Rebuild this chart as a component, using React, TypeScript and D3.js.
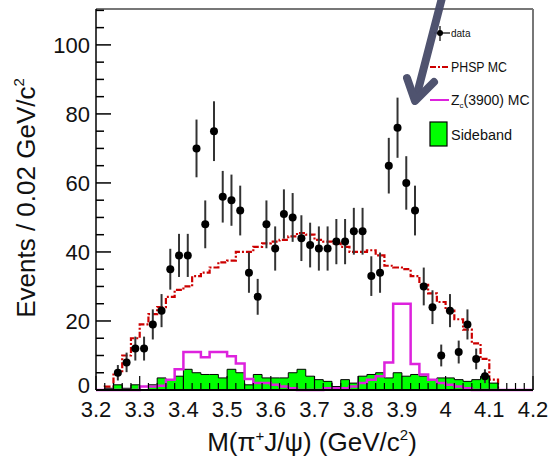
import React from "react";
import * as d3 from "d3";

// ---- data (bins of 0.02 GeV/c^2 from 3.20 to 4.20) ----
const binEdgesStart = 3.2;
const binWidth = 0.02;
const dataCounts = [0, 0, 5, 8, 12, 12, 19, 23, 35, 39, 39, 70, 48, 75, 56, 55, 52, 34, 27, 48, 41, 51, 50, 44, 42, 41, 41, 43, 43, 46, 46, 33, 34, 65, 76, 60, 52, 30, 24, 10, 23, 11, 19, 9, 4, 0, 0, 0, 0, 0];
const phspMC = [0, 1, 5, 10, 15, 19, 22, 24, 27, 29, 30, 33, 34, 35.5, 37, 37.5, 40, 40, 41.5, 42.5, 43, 43.5, 44.5, 45.5, 45, 43.5, 43, 42.5, 41.5, 40, 40, 40.5, 39, 36, 35.5, 35, 33, 30.5, 28, 25.5, 23, 20.5, 17.5, 13.5, 9, 3, 0, 0, 0, 0];
const zcMC = [0, 0, 0, 0, 0, 1, 1, 1.2, 3, 6, 11, 11, 9.5, 11, 11, 9.8, 7.7, 3.2, 2, 2, 1.5, 1, 0.5, 0, 0, 0, 0.5, 0.5, 0.5, 1, 2, 3, 4, 8, 25, 25, 7.5, 4.5, 3, 2, 1.5, 1, 0.5, 0, 0, 0, 0, 0, 0, 0];
const sideband = [0, 0.5, 1.5, 0.5, 1.5, 0, 1.5, 3.5, 3, 4, 6, 5, 4.5, 4.5, 3.5, 6, 5, 1.5, 4.5, 3.5, 3.5, 3.5, 5, 6, 4, 3, 2.5, 1, 3, 2, 4, 4.5, 5, 3.5, 5, 4, 4.5, 4, 3, 3.5, 3.5, 3, 2.5, 3, 4, 2, 0, 0, 0, 0];
const xTickValues = [3.2, 3.3, 3.4, 3.5, 3.6, 3.7, 3.8, 3.9, 4.0, 4.1, 4.2];
const xTickLabels = ["3.2", "3.3", "3.4", "3.5", "3.6", "3.7", "3.8", "3.9", "4", "4.1", "4.2"];
const yTickValues = [0, 20, 40, 60, 80, 100];
const legendLabels = ["data", "PHSP MC", "(3900) MC", "Sideband"];

const W = 551, H = 461;
const L = 96, R = 533, T = 9, B = 390;

export default function App() {
  const x = d3.scaleLinear().domain([3.2, 4.2]).range([L, R]);
  const y = d3.scaleLinear().domain([0, 110.4]).range([B, T]);
  const n = dataCounts.length;
  const edges = d3.range(n + 1).map((i) => binEdgesStart + i * binWidth);

  const stepPts = (vals: number[]) => {
    const pts: [number, number][] = vals.map((v, i) => [edges[i], v]);
    pts.push([edges[n], vals[n - 1]]);
    return pts;
  };
  const line = d3.line<[number, number]>().x((d) => x(d[0])).y((d) => y(d[1])).curve(d3.curveStepAfter);
  const area = d3.area<[number, number]>().x((d) => x(d[0])).y0(y(0)).y1((d) => y(d[1])).curve(d3.curveStepAfter);

  const minorY = d3.range(0, 111, 5);
  const minorX = d3.range(0, 51).map((i) => 3.2 + i * 0.02);

  const font = "'Liberation Sans', Arial, Helvetica, sans-serif";

  return (
    <svg width={W} height={H} style={{ position: "absolute", left: 0, top: 0, background: "#fff" }} fontFamily={font}>
      <rect x={0} y={0} width={W} height={H} fill="#fff" />
      {/* PHSP MC */}
      <path d={line(stepPts(phspMC)) || ""} fill="none" stroke="#cc0000" strokeWidth={2.2} strokeDasharray="6,2,2,2" />
      {/* sideband */}
      <path d={area(stepPts(sideband)) || ""} fill="#00ff00" stroke="#000" strokeWidth={1} />
      {/* Zc MC */}
      <path d={line(stepPts(zcMC)) || ""} fill="none" stroke="#dd22dd" strokeWidth={2.5} />
      {/* data */}
      {dataCounts.map((c, i) => {
        if (c <= 0) return null;
        const cx = x(edges[i] + binWidth / 2);
        const e = Math.sqrt(c);
        return (
          <g key={i}>
            <line x1={cx} x2={cx} y1={y(c + e)} y2={y(Math.max(0, c - e))} stroke="#333" strokeWidth={2} />
            <circle cx={cx} cy={y(c)} r={4} fill="#000" />
          </g>
        );
      })}
      {/* frame */}
      <line x1={L} x2={R} y1={T} y2={T} stroke="#777" strokeWidth={2} />
      <line x1={R} x2={R} y1={T} y2={B} stroke="#777" strokeWidth={2} />
      <line x1={L} x2={L} y1={T} y2={B} stroke="#000" strokeWidth={1.5} />
      <line x1={L} x2={R} y1={B} y2={B} stroke="#000" strokeWidth={2} />
      {/* y ticks */}
      {minorY.map((v) => (
        <line key={"my" + v} x1={L} x2={L + (v % 20 === 0 ? 15 : 8)} y1={y(v)} y2={y(v)} stroke="#000" strokeWidth={1.5} />
      ))}
      {yTickValues.map((v) => (
        <text key={"ty" + v} x={L - 6} y={y(v) - (v === 0 ? 5 : 0)} dy="0.36em" textAnchor="end" fontSize={22} fill="#111">{v}</text>
      ))}
      {/* x ticks */}
      {minorX.map((v, i) => (
        <line key={"mx" + i} x1={x(v)} x2={x(v)} y1={B} y2={B - (i % 5 === 0 ? 14 : 7)} stroke="#000" strokeWidth={1.2} />
      ))}
      {xTickValues.map((v, i) => (
        <text key={"tx" + i} x={x(v)} y={417} textAnchor="middle" fontSize={22} fill="#111">{xTickLabels[i]}</text>
      ))}
      {/* axis titles */}
      <text x={312} y={451} textAnchor="middle" fontSize={26} fill="#111">
        M(π<tspan fontSize={15} dy={-10}>+</tspan><tspan dy={10}>J/ψ) (GeV/c</tspan><tspan fontSize={15} dy={-11}>2</tspan><tspan dy={11}>)</tspan>
      </text>
      <text transform={`translate(35,198) rotate(-90)`} textAnchor="middle" fontSize={26} fill="#111">
        Events / 0.02 GeV/c<tspan fontSize={15} dy={-11}>2</tspan>
      </text>
      {/* legend */}
      <line x1={434} x2={450} y1={33} y2={33} stroke="#000" strokeWidth={1.2} />
      <line x1={440} x2={440} y1={26} y2={41} stroke="#000" strokeWidth={1.2} />
      <circle cx={440} cy={33} r={3} fill="#000" />
      <text x={451} y={36.5} fontSize={10} fill="#111">{legendLabels[0]}</text>
      <line x1={430} x2={449} y1={67} y2={67} stroke="#cc0000" strokeWidth={2} strokeDasharray="6,2,2,2" />
      <text x={451} y={72} fontSize={14} textLength={56} lengthAdjust="spacingAndGlyphs" fill="#111">{legendLabels[1]}</text>
      <line x1={430} x2={449} y1={100} y2={100} stroke="#dd22dd" strokeWidth={2} />
      <text x={451} y={105} fontSize={14} fill="#111">
        Z<tspan fontSize={8} dy={3}>c</tspan><tspan dy={-3} textLength={66} lengthAdjust="spacingAndGlyphs">{legendLabels[2]}</tspan>
      </text>
      <rect x={430} y={122} width={17} height={24} fill="#00ff00" stroke="#000" strokeWidth={1.2} />
      <text x={451} y={140} fontSize={14} textLength={61} lengthAdjust="spacingAndGlyphs" fill="#111">{legendLabels[3]}</text>
      {/* arrow annotation */}
      <g stroke="#464a68" strokeWidth={8} strokeLinecap="round" strokeLinejoin="round" fill="none" opacity={0.95}>
        <line x1={443} y1={-6} x2={416} y2={98} />
        <polyline points="407,78 415,101 434,82" />
      </g>
    </svg>
  );
}
